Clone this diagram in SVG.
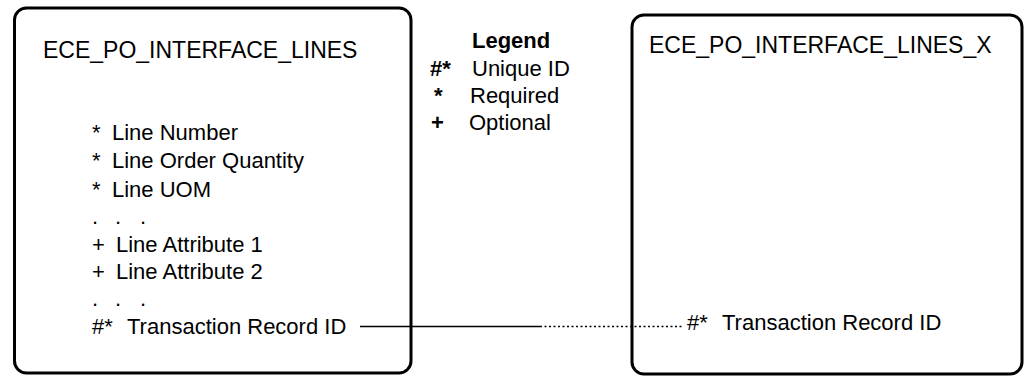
<svg xmlns="http://www.w3.org/2000/svg" width="1024" height="376" viewBox="0 0 1024 376">
<style>
.box{fill:#fff;stroke:#000;stroke-width:3}
.t{font-family:"Liberation Sans",Arial,sans-serif;font-size:22px;fill:#000}
.title{font-size:23px}
.b{font-weight:bold}
.solid{stroke:#000;stroke-width:1.5;fill:none}
.dot{stroke:#000;stroke-width:1.5;fill:none;stroke-dasharray:2 2.5}
</style>
<rect width="1024" height="376" fill="#fff"/>
<g id="node-lines">
<rect class="box" x="14.5" y="8" width="396.5" height="365" rx="12"/>
<text class="t title" x="43" y="58">ECE_PO_INTERFACE_LINES</text>
<text class="t" x="92" y="140">*</text><text class="t" x="112" y="140">Line Number</text>
<text class="t" x="92" y="168">*</text><text class="t" x="112" y="168">Line Order Quantity</text>
<text class="t" x="92" y="197">*</text><text class="t" x="112" y="197">Line UOM</text>
<text class="t" x="92" y="224">.</text><text class="t" x="115" y="224">.</text><text class="t" x="140" y="224">.</text>
<text class="t" x="92" y="252">+</text><text class="t" x="116" y="252">Line Attribute 1</text>
<text class="t" x="92" y="279">+</text><text class="t" x="116" y="279">Line Attribute 2</text>
<text class="t" x="92" y="306">.</text><text class="t" x="115" y="306">.</text><text class="t" x="140" y="306">.</text>
<text class="t" x="92" y="334">#*</text><text class="t" x="127" y="334">Transaction Record ID</text>
</g>
<g id="legend">
<text class="t b" x="472" y="48">Legend</text>
<text class="t b" x="430" y="76">#*</text><text class="t" x="472" y="76">Unique ID</text>
<text class="t b" x="434" y="103">*</text><text class="t" x="470" y="103">Required</text>
<text class="t b" x="431" y="130">+</text><text class="t" x="469" y="130">Optional</text>
</g>
<g id="node-lines-x">
<rect class="box" x="632" y="15" width="390" height="359" rx="12"/>
<text class="t title" x="649" y="53">ECE_PO_INTERFACE_LINES_X</text>
<text class="t" x="687" y="330">#*</text><text class="t" x="722" y="330">Transaction Record ID</text>
</g>
<g id="connectors">
<line class="solid" x1="360" y1="326.5" x2="540" y2="326.5"/>
<line class="dot" x1="540" y1="326.5" x2="684" y2="326.5"/>
</g>
</svg>
